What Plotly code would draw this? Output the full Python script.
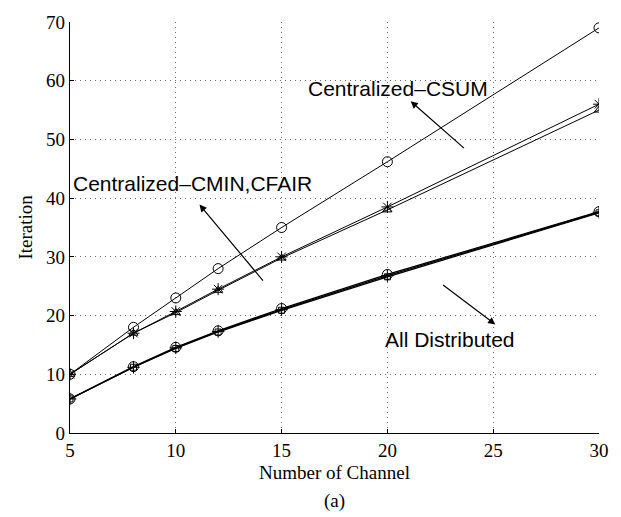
import plotly.graph_objects as go

channels = [5, 8, 10, 12, 15, 20, 30]
csum = [10, 18, 23, 28, 35, 46.2, 69]
cmin = [10, 17, 20.7, 24.5, 30, 38.5, 56]
cfair = [10, 17, 20.5, 24.3, 29.8, 38, 55]
dsum = [5.8, 11.3, 14.6, 17.4, 21.2, 27.0, 37.7]
dmin = [5.8, 11.2, 14.5, 17.3, 21.0, 26.8, 37.6]
dfair = [5.8, 11.2, 14.4, 17.2, 20.9, 26.6, 37.5]

x_ticks = [5, 10, 15, 20, 25, 30]
y_ticks = [0, 10, 20, 30, 40, 50, 60, 70]

fig = go.Figure()

def add(y, symbol, size, width=1):
    fig.add_trace(go.Scatter(
        x=channels, y=y, mode="lines+markers",
        line=dict(color="black", width=width),
        marker=dict(symbol=symbol, size=size, color="black",
                    line=dict(color="black", width=1)),
        showlegend=False))

add(csum, "circle-open", 10)
add(cmin, "asterisk-open", 10)
add(cfair, "triangle-up-open", 8)
add(dsum, "circle-open", 10, 1.3)
add(dmin, "cross-thin-open", 9, 1.3)
add(dfair, "square-open", 6, 1.3)

serif = "Liberation Serif, Times New Roman, serif"
sans = "Liberation Sans, Arial, sans-serif"

axis_common = dict(
    showline=True, linecolor="black", linewidth=1.3,
    showgrid=True, gridcolor="#6e6e6e", griddash="1px,4px", gridwidth=1,
    ticks="inside", ticklen=4, tickcolor="black",
    zeroline=False, mirror=False,
    tickfont=dict(family=serif, size=19, color="black"),
)

fig.update_layout(
    width=621, height=517,
    margin=dict(l=70, r=20, t=14, b=84),
    paper_bgcolor="white", plot_bgcolor="white",
    xaxis=dict(range=[5, 30], tickvals=x_ticks, **axis_common),
    yaxis=dict(range=[0, 70], tickvals=y_ticks, **axis_common),
)

anns = []
# axis titles
anns.append(dict(text="Number of Channel", xref="paper", yref="paper",
                 x=0.5, y=-0.097, xanchor="center", yanchor="middle",
                 showarrow=False, font=dict(family=serif, size=19, color="black")))
anns.append(dict(text="(a)", xref="paper", yref="paper",
                 x=0.5, y=-0.165, xanchor="center", yanchor="middle",
                 showarrow=False, font=dict(family=serif, size=19, color="black")))
anns.append(dict(text="Iteration", xref="paper", yref="paper",
                 x=-0.085, y=0.5, xanchor="center", yanchor="middle", textangle=-90,
                 showarrow=False, font=dict(family=serif, size=19, color="black")))

# labels
anns.append(dict(text="Centralized\u2013CSUM", x=20.5, y=58.64, xref="x", yref="y",
                 showarrow=False, xanchor="center", yanchor="middle",
                 font=dict(family=sans, size=21, color="black")))
anns.append(dict(text="Centralized\u2013CMIN,CFAIR", x=10.8, y=42.43, xref="x", yref="y",
                 showarrow=False, xanchor="center", yanchor="middle",
                 font=dict(family=sans, size=21, color="black")))
anns.append(dict(text="All Distributed", x=22.98, y=15.87, xref="x", yref="y",
                 showarrow=False, xanchor="center", yanchor="middle",
                 font=dict(family=sans, size=21, color="black")))

# arrows (head at x,y ; tail at ax,ay)
arrows = [
    (21.1, 56.5, 23.69, 48.3),
    (11.12, 38.9, 14.18, 25.7),
    (25.1, 18.5, 22.56, 25.4),
]
for hx, hy, tx, ty in arrows:
    anns.append(dict(x=hx, y=hy, ax=tx, ay=ty, xref="x", yref="y",
                     axref="x", ayref="y", text="", showarrow=True,
                     arrowhead=2, arrowsize=1.2, arrowwidth=1.2, arrowcolor="black"))

fig.update_layout(annotations=anns)
fig.write_html("out.html")
